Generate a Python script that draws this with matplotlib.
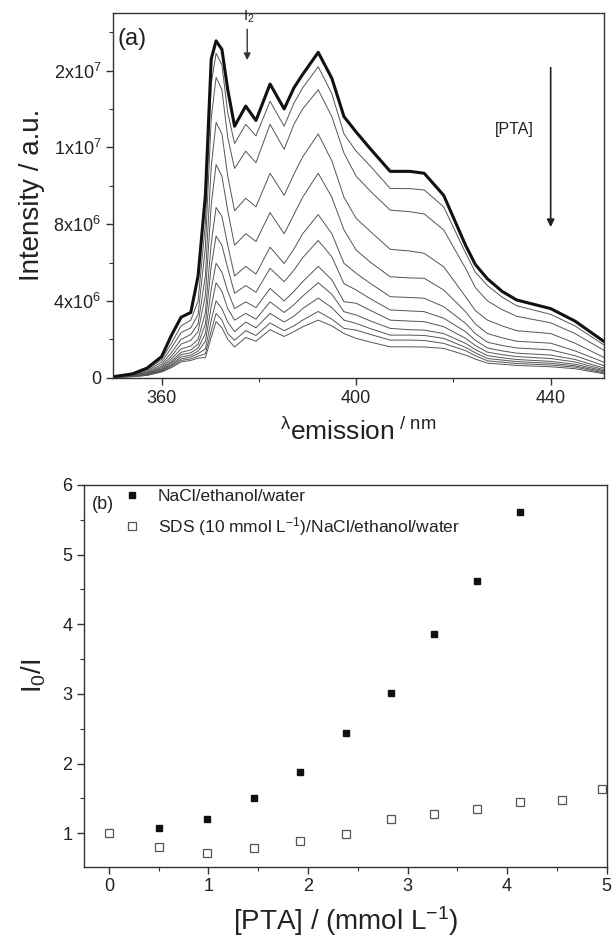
import numpy as np
import matplotlib
matplotlib.use("Agg")
import matplotlib.pyplot as plt
from matplotlib.ticker import FixedLocator, MultipleLocator

plt.rcParams['font.family'] = ['Liberation Sans', 'DejaVu Sans']
plt.rcParams['mathtext.fontset'] = 'custom'
plt.rcParams['mathtext.rm'] = 'Liberation Sans'
plt.rcParams['mathtext.it'] = 'Liberation Sans:italic'
plt.rcParams['mathtext.bf'] = 'Liberation Sans:bold'

# (a) emission spectra, intensity in units of 1e6
# each row = one wavelength, columns = curves from [PTA]=0 (thick) to highest [PTA]
wavelength = [350, 354, 357, 360, 362, 364, 366, 367.5, 369, 370.2, 371.2, 372.4,
              373.6, 375.0, 377.3, 379.4, 382.3, 385.2, 387.2, 389, 392.2, 395,
              397.5, 400, 403, 407, 411, 414, 418, 422.5, 424.5, 427, 430, 433,
              440, 445, 451]
intensity_rows = [
    [0.05, 0.04, 0.04, 0.03, 0.03, 0.03, 0.02, 0.02, 0.02, 0.02, 0.02, 0.02],
    [0.2, 0.18, 0.15, 0.13, 0.12, 0.1, 0.1, 0.08, 0.08, 0.07, 0.06, 0.05],
    [0.5, 0.42, 0.36, 0.3, 0.26, 0.22, 0.2, 0.18, 0.16, 0.15, 0.13, 0.12],
    [1.1, 0.95, 0.82, 0.7, 0.6, 0.53, 0.47, 0.42, 0.38, 0.35, 0.32, 0.3],
    [2.2, 1.8, 1.55, 1.3, 1.12, 0.98, 0.86, 0.78, 0.7, 0.64, 0.58, 0.52],
    [3.15, 2.7, 2.35, 2.0, 1.75, 1.5, 1.32, 1.2, 1.08, 0.98, 0.9, 0.82],
    [3.4, 3.0, 2.6, 2.25, 1.95, 1.65, 1.45, 1.3, 1.18, 1.08, 0.98, 0.9],
    [5.3, 4.0, 3.3, 2.8, 2.4, 2.0, 1.75, 1.55, 1.38, 1.25, 1.12, 1.02],
    [9.5, 8.0, 6.8, 5.3, 4.3, 3.4, 2.8, 2.3, 1.9, 1.5, 1.25, 1.05],
    [16.6, 15.3, 13.5, 11.0, 9.0, 7.0, 5.8, 4.6, 3.7, 3.0, 2.45, 2.1],
    [17.55, 16.9, 15.65, 13.3, 11.1, 8.87, 7.38, 5.96, 4.95, 4.0, 3.35, 2.92],
    [17.1, 16.3, 15.0, 12.7, 10.5, 8.4, 6.9, 5.5, 4.5, 3.6, 3.0, 2.6],
    [15.0, 13.8, 12.5, 10.5, 8.7, 6.9, 5.7, 4.5, 3.6, 2.9, 2.3, 2.0],
    [13.1, 12.2, 10.9, 8.7, 6.9, 5.3, 4.4, 3.6, 3.0, 2.4, 1.95, 1.6],
    [14.15, 13.2, 11.8, 9.35, 7.5, 5.8, 4.8, 3.95, 3.35, 2.9, 2.45, 2.1],
    [13.4, 12.6, 11.2, 8.9, 7.1, 5.4, 4.45, 3.65, 3.05, 2.6, 2.2, 1.9],
    [15.3, 14.4, 13.2, 10.65, 8.6, 6.8, 5.7, 4.65, 3.95, 3.35, 2.85, 2.5],
    [14.0, 13.1, 11.9, 9.5, 7.5, 5.95, 5.0, 4.0, 3.4, 2.9, 2.45, 2.15],
    [15.1, 14.3, 13.2, 10.6, 8.5, 6.7, 5.6, 4.5, 3.8, 3.2, 2.7, 2.4],
    [15.8, 15.1, 14.0, 11.5, 9.4, 7.5, 6.25, 5.0, 4.25, 3.6, 3.0, 2.65],
    [16.95, 16.2, 15.0, 12.7, 10.65, 8.5, 7.15, 5.8, 4.95, 4.15, 3.45, 3.0],
    [15.6, 14.8, 13.6, 11.3, 9.4, 7.5, 6.3, 5.1, 4.35, 3.65, 3.05, 2.7],
    [13.6, 12.7, 11.7, 9.4, 7.7, 5.96, 4.9, 3.96, 3.44, 3.0, 2.57, 2.3],
    [12.8, 11.8, 10.5, 8.3, 6.65, 5.44, 4.57, 3.88, 3.27, 2.83, 2.48, 2.05],
    [11.9, 11.0, 9.7, 7.6, 6.0, 4.9, 4.1, 3.5, 2.95, 2.55, 2.25, 1.85],
    [10.75, 9.86, 8.73, 6.69, 5.26, 4.22, 3.53, 3.0, 2.57, 2.22, 1.96, 1.61],
    [10.75, 9.85, 8.65, 6.6, 5.2, 4.18, 3.48, 2.95, 2.5, 2.22, 1.96, 1.61],
    [10.65, 9.78, 8.53, 6.48, 5.18, 4.14, 3.44, 2.92, 2.48, 2.2, 1.94, 1.6],
    [9.5, 8.9, 7.7, 5.78, 4.57, 3.7, 3.1, 2.66, 2.3, 2.05, 1.79, 1.53],
    [6.9, 6.5, 5.7, 4.22, 3.44, 2.83, 2.4, 2.05, 1.79, 1.58, 1.41, 1.18],
    [5.9, 5.5, 4.7, 3.5, 2.8, 2.3, 1.95, 1.68, 1.47, 1.3, 1.15, 0.97],
    [5.15, 4.8, 4.0, 3.0, 2.3, 1.85, 1.55, 1.33, 1.15, 1.0, 0.88, 0.76],
    [4.5, 4.2, 3.55, 2.7, 2.08, 1.68, 1.4, 1.2, 1.04, 0.92, 0.81, 0.7],
    [4.05, 3.75, 3.2, 2.45, 1.9, 1.55, 1.28, 1.1, 0.95, 0.84, 0.74, 0.64],
    [3.6, 3.3, 2.86, 2.3, 1.8, 1.45, 1.18, 1.0, 0.85, 0.75, 0.66, 0.57],
    [2.95, 2.7, 2.3, 1.8, 1.4, 1.15, 0.95, 0.82, 0.7, 0.62, 0.55, 0.47],
    [1.88, 1.7, 1.42, 1.05, 0.8, 0.62, 0.5, 0.42, 0.36, 0.3, 0.25, 0.2],
]

# (b) Stern-Volmer data
pta_nacl = [0.5, 0.99, 1.46, 1.92, 2.38, 2.83, 3.27, 3.70, 4.13]
ratio_nacl = [1.07, 1.20, 1.50, 1.885, 2.445, 3.01, 3.86, 4.615, 5.61]
pta_sds = [0.0, 0.5, 0.99, 1.46, 1.92, 2.38, 2.83, 3.27, 3.70, 4.13, 4.55, 4.95]
ratio_sds = [1.0, 0.80, 0.72, 0.785, 0.894, 0.985, 1.20, 1.27, 1.345, 1.445, 1.48, 1.64]

wl = np.array(wavelength)
spec = np.array(intensity_rows).T * 1e6

fig = plt.figure(figsize=(6.14, 9.41), dpi=100)
ax1 = fig.add_axes([0.184, 0.5986, 0.800, 0.3876])
ax2 = fig.add_axes([0.1368, 0.079, 0.8512, 0.4056])

for ax in (ax1, ax2):
    for sp in ax.spines.values():
        sp.set_linewidth(1.0)
        sp.set_color('#333333')
    ax.tick_params(which='both', direction='out', top=False, right=False,
                   labelsize=13, colors='#333333', labelcolor='#222222')
    ax.tick_params(which='major', length=5, width=1.0)
    ax.tick_params(which='minor', length=3, width=0.8)

# --- panel (a)
for curve in spec[1:]:
    ax1.plot(wl, curve, color='#555555', lw=0.7)
ax1.plot(wl, spec[0], color='#111111', lw=2.2)

ax1.set_xlim(350, 451)
ax1.set_ylim(0, 1.9e7)
ax1.xaxis.set_major_locator(FixedLocator([360, 400, 440]))
ax1.xaxis.set_minor_locator(FixedLocator([380, 420]))
ax1.yaxis.set_major_locator(FixedLocator([0, 4e6, 8e6, 1.2e7, 1.6e7]))
ax1.yaxis.set_minor_locator(FixedLocator([2e6, 6e6, 1e7, 1.4e7, 1.8e7]))
ax1.set_yticklabels(['0', '4x10$^6$', '8x10$^6$', '1x10$^7$', '2x10$^7$'])
ax1.set_ylabel('Intensity / a.u.', fontsize=20, color='#222222', labelpad=6)
ax1.set_xlabel(r'$^{\mathrm{λ}}$emission$^{\ /\ \mathrm{nm}}$', fontsize=19,
               color='#222222', labelpad=8)

ax1.text(0.01, 0.93, '(a)', transform=ax1.transAxes, fontsize=17,
         va='center', ha='left', color='#222222')
ax1.annotate('', xy=(377.6, 1.64e7), xytext=(377.6, 1.83e7),
             arrowprops=dict(arrowstyle='-|>', lw=1.0, color='#333333',
                             mutation_scale=10))
ax1.text(377.9, 1.88e7, 'I$_2$', fontsize=11, ha='center', va='center',
         color='#222222')
ax1.annotate('', xy=(440, 7.7e6), xytext=(440, 1.63e7),
             arrowprops=dict(arrowstyle='-|>', lw=1.2, color='#222222',
                             mutation_scale=11))
ax1.text(432.6, 1.295e7, '[PTA]', fontsize=11.5, ha='center', va='center',
         color='#222222')

# --- panel (b)
ax2.plot(pta_nacl, ratio_nacl, linestyle='none', marker='s', markersize=5,
         color='#111111', label='NaCl/ethanol/water')
ax2.plot(pta_sds, ratio_sds, linestyle='none', marker='s', markersize=5.2,
         markerfacecolor='white', markeredgecolor='#555555', markeredgewidth=0.9,
         label='SDS (10 mmol L$^{-1}$)/NaCl/ethanol/water')

ax2.set_xlim(-0.25, 5)
ax2.set_ylim(0.52, 6)
ax2.xaxis.set_major_locator(MultipleLocator(1))
ax2.xaxis.set_minor_locator(MultipleLocator(0.5))
ax2.yaxis.set_major_locator(MultipleLocator(1))
ax2.yaxis.set_minor_locator(MultipleLocator(0.5))
ax2.set_xlabel('[PTA] / (mmol L$^{-1}$)', fontsize=20, color='#222222', labelpad=6)
ax2.set_ylabel('I$_0$/I', fontsize=20, color='#222222', labelpad=10)

ax2.text(0.015, 0.948, '(b)', transform=ax2.transAxes, fontsize=13,
         va='center', ha='left', color='#222222')
ax2.legend(loc='upper left', bbox_to_anchor=(0.075, 0.99), frameon=False,
           fontsize=12.5, handlelength=1.0, handletextpad=1.0, borderpad=0,
           borderaxespad=0, labelspacing=0.65, labelcolor='#222222')

fig.savefig('out.png', dpi=100)
